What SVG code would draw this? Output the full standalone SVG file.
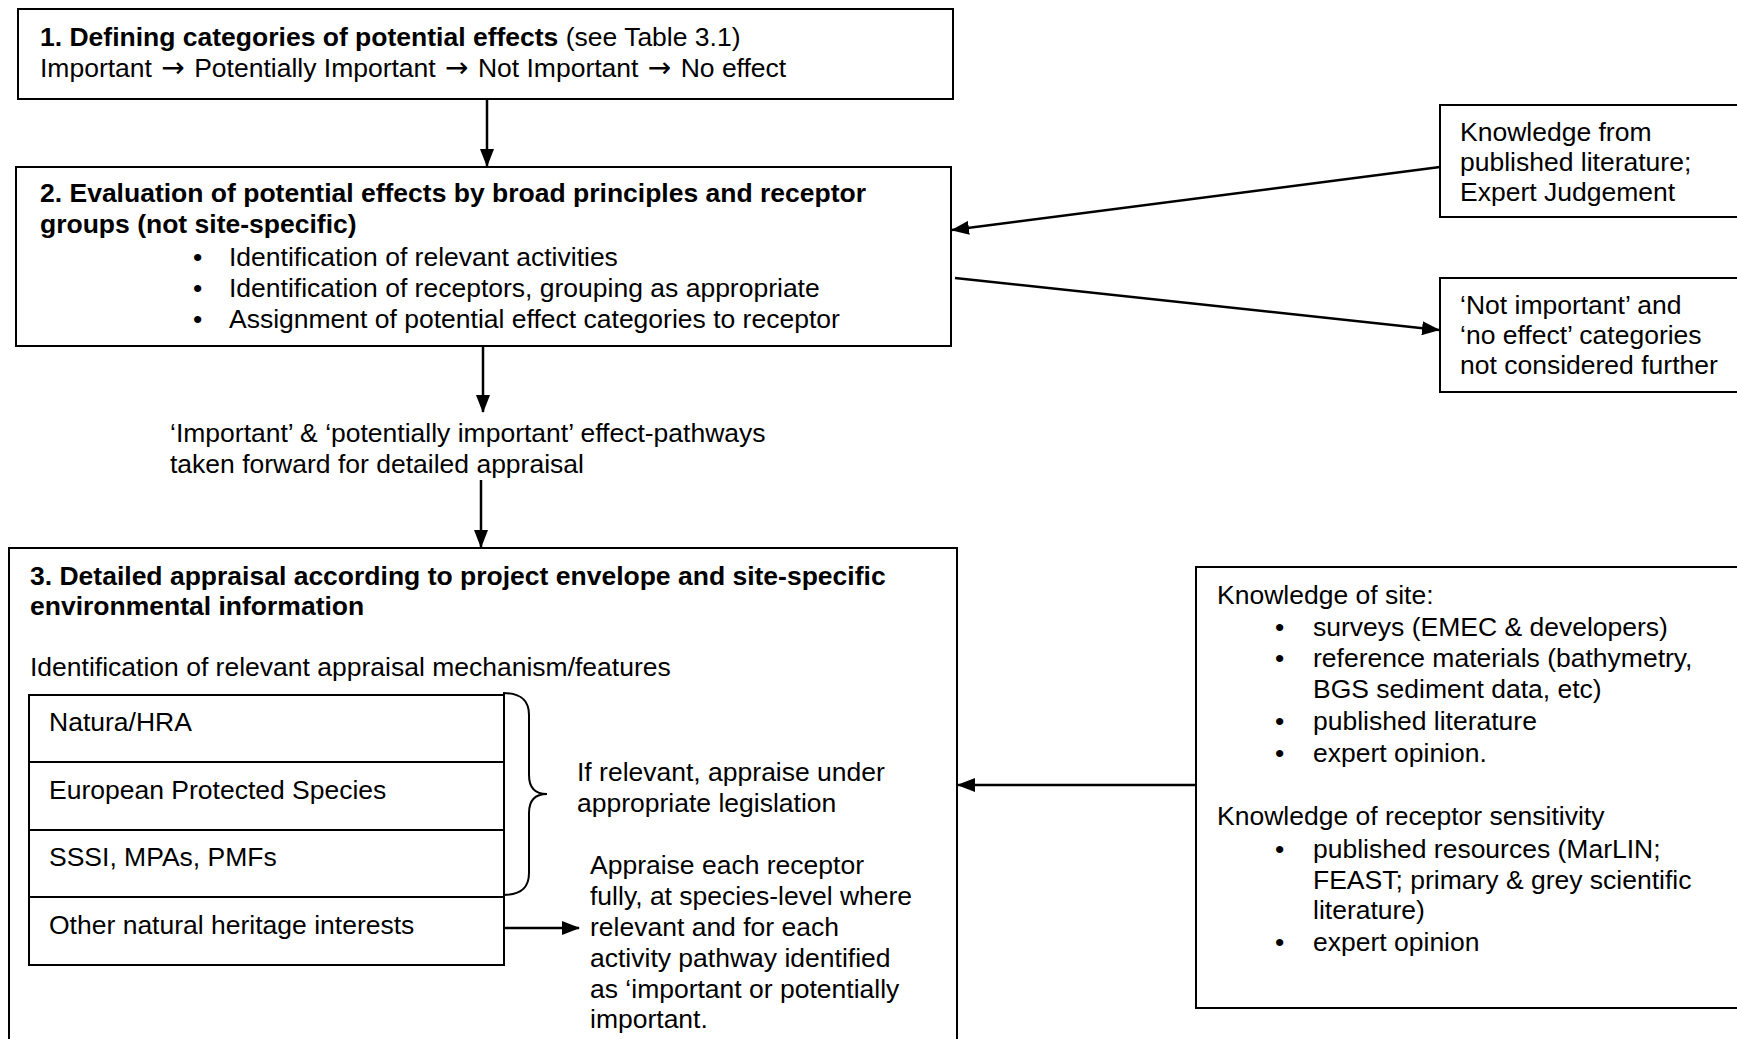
<svg xmlns="http://www.w3.org/2000/svg" width="1737" height="1039" viewBox="0 0 1737 1039">
<style>
text{font-family:"Liberation Sans",Arial,sans-serif;font-size:26.5px;fill:#000}
.b{font-weight:bold}
.ar{font-family:"DejaVu Sans",sans-serif;font-size:28px}
.box{fill:#fff;stroke:#000;stroke-width:2}
.con{fill:none;stroke:#000;stroke-width:2.5}
</style>
<defs>
<marker id="ah" markerUnits="userSpaceOnUse" markerWidth="18" markerHeight="14" refX="17" refY="7" orient="auto">
<path d="M0,0 L18,7 L0,14 Z" fill="#000"/>
</marker>
</defs>
<rect width="1737" height="1039" fill="#fff"/>

<g id="box1">
<rect class="box" x="18" y="9" width="935" height="90"/>
<text x="40" y="46"><tspan class="b">1. Defining categories of potential effects</tspan> (see Table 3.1)</text>
<text x="40" y="77">Important <tspan class="ar" dx="2">→</tspan><tspan dx="2"> Potentially Important </tspan><tspan class="ar" dx="2">→</tspan><tspan dx="2"> Not Important </tspan><tspan class="ar" dx="2">→</tspan><tspan dx="2"> No effect</tspan></text>
</g>

<g id="box2">
<rect class="box" x="16" y="167" width="935" height="179"/>
<text class="b" x="40" y="202">2. Evaluation of potential effects by broad principles and receptor</text>
<text class="b" x="40" y="233">groups (not site-specific)</text>
<text x="193" y="266">•</text><text x="229" y="266">Identification of relevant activities</text>
<text x="193" y="297">•</text><text x="229" y="297">Identification of receptors, grouping as appropriate</text>
<text x="193" y="328">•</text><text x="229" y="328">Assignment of potential effect categories to receptor</text>
</g>

<g id="knowledge-lit">
<rect class="box" x="1440" y="105" width="300" height="112"/>
<text x="1460" y="141">Knowledge from</text>
<text x="1460" y="171">published literature;</text>
<text x="1460" y="201">Expert Judgement</text>
</g>

<g id="not-important">
<rect class="box" x="1440" y="278" width="300" height="114"/>
<text x="1460" y="314">‘Not important’ and</text>
<text x="1460" y="344">‘no effect’ categories</text>
<text x="1460" y="374">not considered further</text>
</g>

<g id="label-forward">
<text x="170" y="442">‘Important’ &amp; ‘potentially important’ effect-pathways</text>
<text x="170" y="473">taken forward for detailed appraisal</text>
</g>

<g id="box3">
<rect class="box" x="9" y="548" width="948" height="520"/>
<text class="b" x="30" y="585">3. Detailed appraisal according to project envelope and site-specific</text>
<text class="b" x="30" y="615">environmental information</text>
<text x="30" y="676">Identification of relevant appraisal mechanism/features</text>
<path d="M503,693 C521,693 529,700 529,715 L529,775 C529,788 536,794 547,794 C536,794 529,800 529,813 L529,873 C529,888 521,895 503,895" fill="none" stroke="#000" stroke-width="2"/>
<text x="577" y="781">If relevant, appraise under</text>
<text x="577" y="812">appropriate legislation</text>
<text x="590" y="874">Appraise each receptor</text>
<text x="590" y="905">fully, at species-level where</text>
<text x="590" y="936">relevant and for each</text>
<text x="590" y="967">activity pathway identified</text>
<text x="590" y="998">as ‘important or potentially</text>
<text x="590" y="1028">important.</text>
</g>

<g id="natura-hra">
<rect class="box" x="29" y="695" width="475" height="67"/>
<text x="49" y="731">Natura/HRA</text>
</g>
<g id="eps">
<rect class="box" x="29" y="762" width="475" height="68"/>
<text x="49" y="799">European Protected Species</text>
</g>
<g id="sssi">
<rect class="box" x="29" y="830" width="475" height="67"/>
<text x="49" y="866">SSSI, MPAs, PMFs</text>
</g>
<g id="other-nhi">
<rect class="box" x="29" y="897" width="475" height="68"/>
<text x="49" y="934">Other natural heritage interests</text>
</g>

<g id="knowledge-site">
<rect class="box" x="1196" y="567" width="545" height="441"/>
<text x="1217" y="604">Knowledge of site:</text>
<text x="1275" y="636">•</text><text x="1313" y="636">surveys (EMEC &amp; developers)</text>
<text x="1275" y="667">•</text><text x="1313" y="667">reference materials (bathymetry,</text>
<text x="1313" y="698">BGS sediment data, etc)</text>
<text x="1275" y="730">•</text><text x="1313" y="730">published literature</text>
<text x="1275" y="762">•</text><text x="1313" y="762">expert opinion.</text>
<text x="1217" y="825">Knowledge of receptor sensitivity</text>
<text x="1275" y="858">•</text><text x="1313" y="858">published resources (MarLIN;</text>
<text x="1313" y="889">FEAST; primary &amp; grey scientific</text>
<text x="1313" y="919">literature)</text>
<text x="1275" y="951">•</text><text x="1313" y="951">expert opinion</text>
</g>

<g id="connectors">
<line class="con" x1="487" y1="99" x2="487" y2="166" marker-end="url(#ah)"/>
<line class="con" x1="483" y1="346" x2="483" y2="412" marker-end="url(#ah)"/>
<line class="con" x1="481" y1="480" x2="481" y2="547" marker-end="url(#ah)"/>
<line class="con" x1="1440" y1="167" x2="952" y2="230" marker-end="url(#ah)"/>
<line class="con" x1="955" y1="278" x2="1439" y2="330" marker-end="url(#ah)"/>
<line class="con" x1="1196" y1="785" x2="958" y2="785" marker-end="url(#ah)"/>
<line class="con" x1="504" y1="928" x2="579" y2="928" marker-end="url(#ah)"/>
</g>
</svg>
